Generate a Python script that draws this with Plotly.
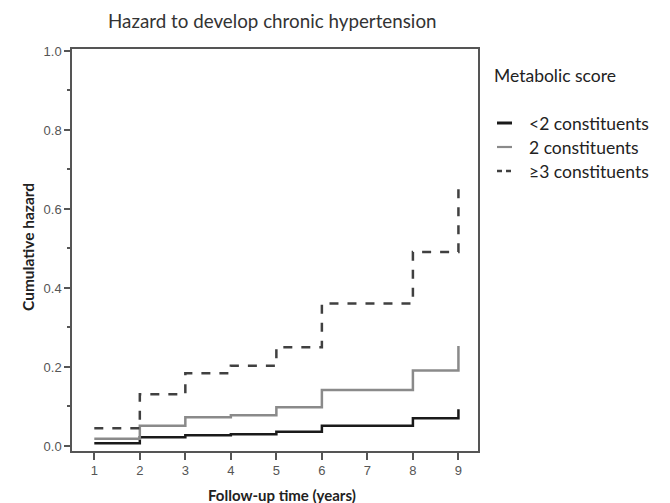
import plotly.graph_objects as go

times = [1, 2, 3, 4, 5, 6, 8, 9]
haz_lt2 = [0.007, 0.022, 0.027, 0.030, 0.036, 0.051, 0.070, 0.093]
haz_2 = [0.018, 0.051, 0.073, 0.078, 0.098, 0.142, 0.191, 0.253]
haz_ge3 = [0.045, 0.131, 0.184, 0.203, 0.250, 0.361, 0.491, 0.659]
names = ["<2 constituents", "2 constituents", "≥3 constituents"]
colors = ["#1a1a1a", "#8a8a8a", "#404040"]
dashes = ["solid", "solid", "dash"]
series = [haz_lt2, haz_2, haz_ge3]
xticks = list(range(1, 10))
yticks = [0, 0.2, 0.4, 0.6, 0.8, 1.0]
yticklabels = ["0.0", "0.2", "0.4", "0.6", "0.8", "1.0"]
yminor = [0.1, 0.3, 0.5, 0.7, 0.9]

fig = go.Figure()
for name, ys, c, d in zip(names, series, colors, dashes):
    fig.add_trace(go.Scatter(x=times, y=ys, mode="lines", name=name,
                             line=dict(shape="hv", color=c, width=2.5, dash=d),
                             showlegend=False))

L, R, T, B = 72, 192, 49, 52
W, H = 670, 503
pw, ph = W - L - R, H - T - B

def px(xp):
    return (xp - L) / pw

def py(yp):
    return (H - B - yp) / ph

shapes = []
annotations = []
# manual legend
leg_y = [123, 147, 171]
leg_w = [3, 2.2, 2.5]
for name, c, d, yy, lw in zip(names, colors, dashes, leg_y, leg_w):
    shapes.append(dict(type="line", xref="paper", yref="paper",
                       x0=px(497), x1=px(512), y0=py(yy), y1=py(yy),
                       line=dict(color=c, width=lw, dash="5px,4px" if d == "dash" else "solid")))
    annotations.append(dict(text=name, xref="paper", yref="paper", x=px(527), y=py(yy),
                            xanchor="left", yanchor="middle", showarrow=False,
                            font=dict(family="Lato", size=17.5, color="#222")))
annotations.append(dict(text="Metabolic score", xref="paper", yref="paper", x=px(492), y=py(75),
                        xanchor="left", yanchor="middle", showarrow=False,
                        font=dict(family="Lato", size=17.5, color="#222")))
annotations.append(dict(text="Hazard to develop chronic hypertension", xref="paper", yref="paper",
                        x=px(272), y=py(20), xanchor="center", yanchor="middle", showarrow=False,
                        font=dict(family="Lato", size=18.8, color="#333")))
annotations.append(dict(text="<b>Cumulative hazard</b>", xref="paper", yref="paper",
                        x=px(28), y=py(247), xanchor="center", yanchor="middle", showarrow=False,
                        textangle=-90, font=dict(family="Lato", size=15.5, color="#222")))
annotations.append(dict(text="<b>Follow-up time (years)</b>", xref="paper", yref="paper",
                        x=px(282), y=py(495), xanchor="center", yanchor="middle", showarrow=False,
                        font=dict(family="Lato", size=15, color="#222")))

fig.update_layout(
    width=W, height=H,
    margin=dict(l=L, r=R, t=T, b=B),
    paper_bgcolor="white", plot_bgcolor="white",
    shapes=shapes, annotations=annotations,
    xaxis=dict(range=[0.51, 9.43], tickmode="array", tickvals=xticks,
               showgrid=False, zeroline=False, showline=True, linecolor="#555", linewidth=1.5,
               mirror=True, ticks="outside", ticklen=7, tickcolor="#555", tickwidth=1.5,
               tickfont=dict(family="Liberation Sans", size=13, color="#555")),
    yaxis=dict(range=[-0.0127, 1.005], tickmode="array", tickvals=yticks,
               ticktext=yticklabels,
               showgrid=False, zeroline=False, showline=True, linecolor="#555", linewidth=1.5,
               mirror=True, ticks="outside", ticklen=6, tickcolor="#555", tickwidth=1.5,
               minor=dict(tickvals=yminor, ticks="outside", ticklen=3,
                          tickcolor="#555", tickwidth=1.5),
               tickfont=dict(family="Liberation Sans", size=13, color="#555")),
)

fig.write_html("out.html")
